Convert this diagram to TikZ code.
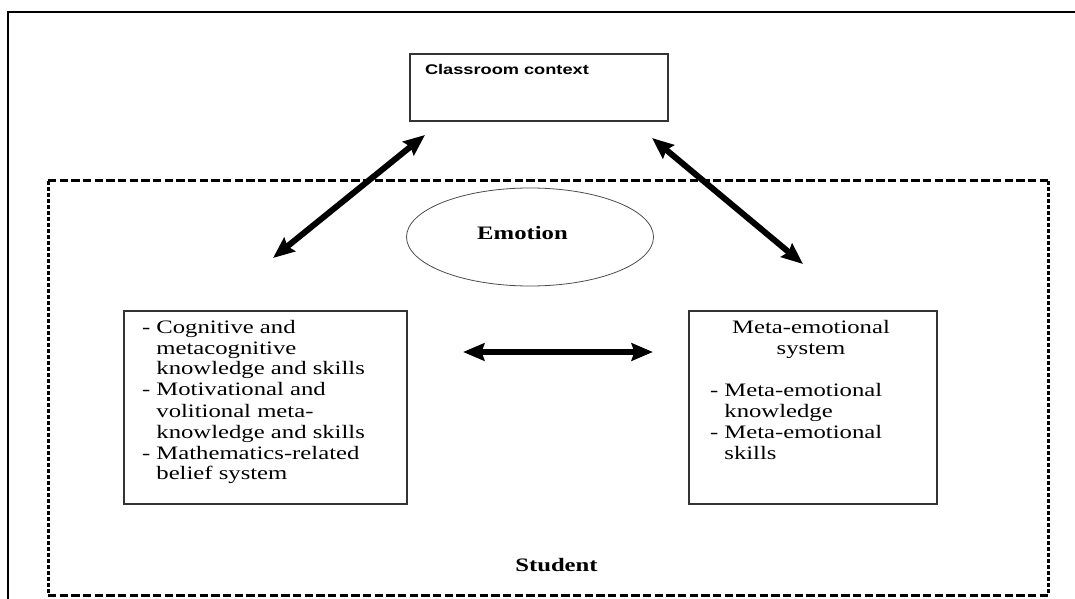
\documentclass[tikz,border=0pt]{standalone}
\usepackage{graphicx}
\usepackage{fontspec}
\setmainfont{Liberation Serif}[FakeStretch=1.3]
\newfontfamily\boxsans{Liberation Sans}
\usetikzlibrary{arrows.meta,shapes.geometric}

\tikzset{
  box/.style={draw=black!80, line width=1.1pt, inner sep=0pt, outer sep=0pt},
  region/.style={inner sep=0pt, outer sep=0pt},
  hdash/.style={line width=2.25pt, dash pattern=on 6.25pt off 2.5pt},
  vdash/.style={line width=2.25pt, dash pattern=on 3pt off 1.5pt},
  txt/.style={inner sep=0pt, outer sep=0pt, font=\fontsize{14.25pt}{15.75pt}\selectfont},
  bothway/.style={line width=4.5pt,
    {Stealth[length=16pt, width=13pt, inset=2pt]}-{Stealth[length=16pt, width=13pt, inset=2pt]}},
}

\begin{document}
\begin{tikzpicture}[x=0.75pt, y=-0.75pt]
  \useasboundingbox (0,0) rectangle (1075,599);
  \fill[white] (0,0) rectangle (1075,599);

  % page frame, running off the right and bottom edges
  \draw[line width=1.5pt] (8,12) rectangle (1090,615);

  % student area with its dashed border
  \node[region, minimum width={1000*0.75pt}, minimum height={414*0.75pt}] (studentarea) at (548,388) {};
  \draw[hdash] (studentarea.north west) -- (studentarea.north east);
  \draw[hdash] (studentarea.south west) -- (studentarea.south east);
  \draw[vdash] (studentarea.north west) -- (studentarea.south west);
  \draw[vdash] (studentarea.north east) -- (studentarea.south east);

  % classroom context
  \node[box, minimum width={258*0.75pt}, minimum height={67*0.75pt}] (classroom) at (539,87.5) {};
  \node[txt, anchor=base west] (classroomlabel) at (425,75)
    {\scalebox{1.3}[1]{\boxsans\bfseries\fontsize{10.5pt}{12pt}\selectfont Classroom context}};

  % emotion
  \node[ellipse, draw=black!70, line width=0.6pt, minimum width={247*0.75pt}, minimum height={98*0.75pt}, inner sep=0pt] (emotion) at (530,237) {};
  \node[txt, anchor=base] (emotionlabel) at (522.5,239) {\bfseries Emotion};

  % cognitive / motivational box
  \node[box, minimum width={283*0.75pt}, minimum height={193*0.75pt}] (leftbox) at (265.5,407.5) {};
  \node[txt, anchor=base west] (leftlist) at (142,333) {%
    \begin{tabular}[t]{@{}l@{\ }l@{}}
      - & Cognitive and\\
        & metacognitive\\
        & knowledge and skills\\
      - & Motivational and\\
        & volitional meta-\\
        & knowledge and skills\\
      - & Mathematics-related\\
        & belief system
    \end{tabular}};

  % meta-emotional box
  \node[box, minimum width={248*0.75pt}, minimum height={193*0.75pt}] (rightbox) at (813,407.5) {};
  \node[txt, anchor=base] (righthead) at (811,333) {%
    \begin{tabular}[t]{@{}c@{}}Meta-emotional\\system\end{tabular}};
  \node[txt, anchor=base west] (rightlist) at (710,396) {%
    \begin{tabular}[t]{@{}l@{\ }l@{}}
      - & Meta-emotional\\
        & knowledge\\
      - & Meta-emotional\\
        & skills
    \end{tabular}};

  \node[txt, anchor=base] (studentlabel) at (556.5,571) {\bfseries Student};

  % two-way arrows
  \coordinate (leftlow) at (273,258);
  \coordinate (lefthigh) at (425,135);
  \coordinate (righthigh) at (652,138);
  \coordinate (rightlow) at (803,264);
  \coordinate (midleft) at (463,352);
  \coordinate (midright) at (653,352);
  \draw[bothway] (leftlow) -- (lefthigh);
  \draw[bothway] (righthigh) -- (rightlow);
  \draw[bothway] (midleft) -- (midright);
\end{tikzpicture}
\end{document}
